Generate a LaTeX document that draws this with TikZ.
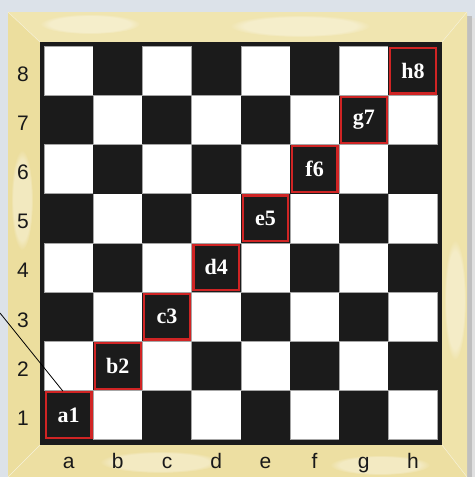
\documentclass[tikz,border=0pt]{standalone}
\usepackage{fontspec}
\setmainfont{Liberation Serif}
\newfontfamily\labelsans{Liberation Sans}
\usetikzlibrary{calc,fadings}
\definecolor{bgblue}{HTML}{DCE2E9}
\definecolor{frametop}{HTML}{F0E5B0}
\definecolor{frameleft}{HTML}{ECDE9E}
\definecolor{framebot}{HTML}{EDDFA2}
\definecolor{frameright}{HTML}{EFE3AA}
\definecolor{darksq}{HTML}{1B1B1B}
\definecolor{lightsq}{HTML}{FFFFFF}
\definecolor{hlred}{HTML}{D02424}
\tikzset{
  hlsquare/.style={rectangle, minimum size=45.6pt, inner sep=0pt, draw=hlred, line width=2.2pt, fill=darksq, text=white, font=\fontsize{22}{22}\selectfont\bfseries},
  coordlabel/.style={inner sep=0pt, anchor=base, font=\labelsans\fontsize{21}{21}\selectfont, text=black!90},
  sqline/.style={draw=black!35, line width=0.4pt},
  patch/.style={fill=white, opacity=0.35, path fading=circle with fuzzy edge 20 percent}
}
\begin{document}
\begin{tikzpicture}[x=1pt,y=-1pt]
\useasboundingbox (0,0) rectangle (475,477);
% background
\fill[bgblue] (0,0) rectangle (475,477);
\fill[black!25] (467,16) rectangle (472,477);
\fill[black!12] (472,18) rectangle (475,477);
% frame with bevel
\fill[frametop] (8,12) -- (467,12) -- (442,42) -- (40,42) -- cycle;
\fill[frameleft] (8,12) -- (40,42) -- (40,445) -- (8,477) -- cycle;
\fill[framebot] (8,477) -- (40,445) -- (442,445) -- (467,477) -- cycle;
\fill[frameright] (467,12) -- (467,477) -- (442,445) -- (442,42) -- cycle;
% marble patches
\begin{scope}
\clip (8,12) rectangle (467,477);
\fill[patch] (90,24) ellipse (50 and 10);
\fill[patch] (300,26) ellipse (70 and 11);
\fill[patch] (22,200) ellipse (11 and 50);
\fill[patch] (455,300) ellipse (11 and 60);
\fill[patch] (160,462) ellipse (60 and 11);
\fill[patch] (380,465) ellipse (50 and 10);
\end{scope}
\draw[white!60!frameleft, line width=0.5pt] (8,12) -- (40,42) (467,12) -- (442,42) (8,477) -- (40,445) (467,477) -- (442,445);
% board border
\fill[darksq] (40,42) rectangle (442,444.5);
% squares
\foreach \i in {0,...,7} {
  \foreach \r in {1,...,8} {
    \pgfmathtruncatemacro{\parity}{mod(\i+\r,2)}
    \pgfmathsetmacro{\xa}{44+\i*49.2}
    \pgfmathsetmacro{\ya}{46+(8-\r)*49.2}
    \ifnum\parity=1
      \fill[darksq] (\xa,\ya) rectangle ++(49.2,49.2);
    \else
      \filldraw[fill=lightsq, sqline] (\xa,\ya) rectangle ++(49.2,49.2);
    \fi
  }
}
% highlighted diagonal
\foreach \f [count=\n] in {a,b,c,d,e,f,g,h} {
  \pgfmathsetmacro{\cx}{44+(\n-1)*49.2+24.6}
  \pgfmathsetmacro{\cy}{46+(8-\n)*49.2+24.6}
  \node[hlsquare] (\f\n) at (\cx,\cy) {\f\n};
}
% rank labels
\foreach \r in {1,...,8} {
  \pgfmathsetmacro{\cy}{46+(8-\r)*49.2+24.6+10.5}
  \node[coordlabel] (rank\r) at (23,\cy) {\r};
}
% file labels
\foreach \f [count=\n] in {a,b,c,d,e,f,g,h} {
  \pgfmathsetmacro{\cx}{44+(\n-1)*49.2+24.6}
  \node[coordlabel] (file\f) at (\cx,468) {\f};
}
% pointer line
\coordinate (linestart) at (0,313);
\draw[black, line width=0.8pt] (linestart) -- ($(a1.north west)!0.38!(a1.north east)$);
\end{tikzpicture}
\end{document}
